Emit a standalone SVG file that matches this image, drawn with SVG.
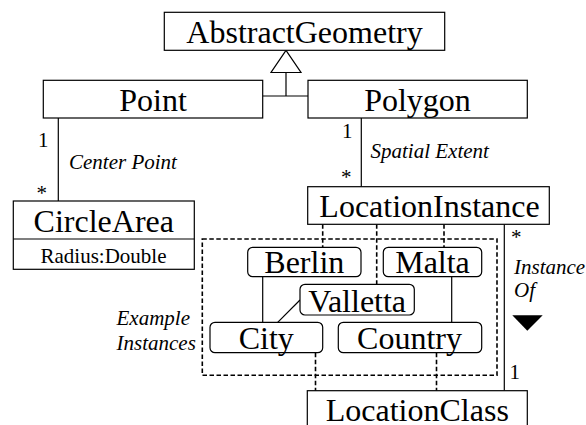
<svg xmlns="http://www.w3.org/2000/svg" width="586" height="425" viewBox="0 0 586 425" font-family="Liberation Serif, Times New Roman, serif">
<style>
.box{fill:#fff;stroke:#000;stroke-width:1.2}
.rbox{fill:#fff;stroke:#000;stroke-width:1.2}
.t{font-size:32px;text-anchor:middle}
.s{font-size:21px}
.sm{font-size:21px;text-anchor:middle}
.i{font-size:21px;font-style:italic}
.ln{stroke:#000;stroke-width:1.2;fill:none}
.dash{stroke:#000;stroke-width:1.6;fill:none;stroke-dasharray:4.5,2.5}
</style>
<rect x="0" y="0" width="586" height="425" fill="#fff"/>
<g id="connectors">
  <path class="ln" d="M286,72.5 V96 M262.7,96 H308"/>
  <polygon points="286,50.3 271,72.5 301,72.5" fill="#fff" stroke="#000" stroke-width="1.2"/>
  <line class="ln" x1="58.3" y1="118" x2="58.3" y2="201"/>
  <line class="ln" x1="361.3" y1="118" x2="361.3" y2="186.7"/>
  <line class="ln" x1="504.3" y1="224.3" x2="504.3" y2="390.7"/>
  <line class="dash" x1="322.7" y1="224.3" x2="322.7" y2="247.3"/>
  <line class="dash" x1="376.7" y1="224.3" x2="376.7" y2="284.3"/>
  <line class="dash" x1="444" y1="224.3" x2="444" y2="247.3"/>
  <line class="dash" x1="315.5" y1="352.7" x2="315.5" y2="390.7"/>
  <line class="dash" x1="436.5" y1="352.7" x2="436.5" y2="390.7"/>
  <line class="ln" x1="262.7" y1="276.7" x2="262.7" y2="322.3"/>
  <line class="ln" x1="451.7" y1="276.7" x2="451.7" y2="322.3"/>
  <line class="ln" x1="300" y1="300" x2="277.7" y2="322.3"/>
  <polygon points="512.3,315.3 542.7,315.3 527.3,330.7" fill="#000"/>
  <text class="s" x="38" y="146.5">1</text>
  <text class="s" x="36.5" y="199.5">*</text>
  <text class="i" x="69" y="168.5">Center Point</text>
  <text class="s" x="342" y="137.5">1</text>
  <text class="s" x="341" y="183.5">*</text>
  <text class="i" x="370.5" y="157.5">Spatial Extent</text>
  <text class="s" x="511" y="244">*</text>
  <text class="i" x="514" y="274">Instance</text>
  <text class="i" x="514" y="297">Of</text>
  <text class="s" x="509.5" y="379">1</text>
</g>
<g id="examples">
  <rect class="dash" x="202.3" y="239" width="294.7" height="136.3"/>
  <text class="i" x="116.5" y="325">Example</text>
  <text class="i" x="116.5" y="350">Instances</text>
</g>
<g id="AbstractGeometry">
  <rect class="box" x="164.3" y="12.3" width="280.4" height="38"/>
  <text class="t" x="304.5" y="43.3">AbstractGeometry</text>
</g>
<g id="Point">
  <rect class="box" x="43.3" y="80.3" width="219.4" height="37.7"/>
  <text class="t" x="153" y="111">Point</text>
</g>
<g id="Polygon">
  <rect class="box" x="308" y="80.3" width="219.3" height="37.7"/>
  <text class="t" x="417.5" y="111">Polygon</text>
</g>
<g id="CircleArea">
  <rect class="box" x="13.3" y="201" width="181" height="68.3"/>
  <line class="ln" x1="13.3" y1="239" x2="194.3" y2="239"/>
  <text class="t" x="103.8" y="231.7">CircleArea</text>
  <text class="sm" x="103.5" y="262.7">Radius:Double</text>
</g>
<g id="LocationInstance">
  <rect class="box" x="307.7" y="186.7" width="241.6" height="37.6"/>
  <text class="t" x="429.5" y="217.3">LocationInstance</text>
</g>
<g id="Berlin">
  <rect class="rbox" x="247.7" y="247.3" width="113.3" height="29.4" rx="5"/>
  <text class="t" x="304.3" y="273.3">Berlin</text>
</g>
<g id="Malta">
  <rect class="rbox" x="383.3" y="247.3" width="98.4" height="29.4" rx="5"/>
  <text class="t" x="432.5" y="273.3">Malta</text>
</g>
<g id="Valletta">
  <rect class="rbox" x="300" y="284.3" width="114.3" height="30.7" rx="5"/>
  <text class="t" x="357.2" y="311.7">Valletta</text>
</g>
<g id="City">
  <rect class="rbox" x="210" y="322.3" width="112.7" height="30.4" rx="5"/>
  <text class="t" x="266.3" y="349.3">City</text>
</g>
<g id="Country">
  <rect class="rbox" x="338.3" y="322.3" width="143.4" height="30.4" rx="5"/>
  <text class="t" x="409.5" y="349.3">Country</text>
</g>
<g id="LocationClass">
  <rect class="box" x="307.3" y="390.7" width="220" height="45"/>
  <text class="t" x="417.3" y="420.7">LocationClass</text>
</g>
</svg>
